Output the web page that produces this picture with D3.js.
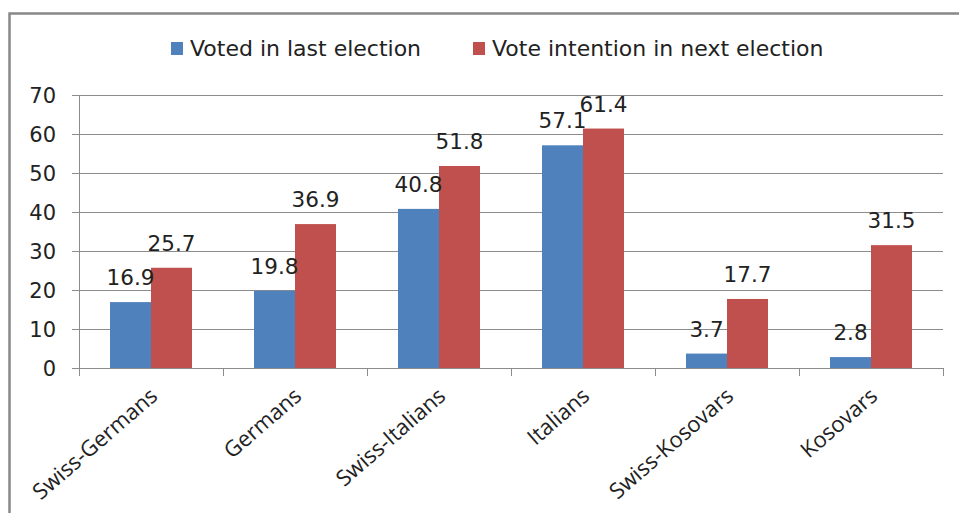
<!DOCTYPE html>
<html>
<head>
<meta charset="utf-8">
<script src="https://cdn.jsdelivr.net/npm/d3@7"></script>
<style>
body { margin: 0; background: #fff; }
svg { display: block; }
text { font-family: "DejaVu Sans", Verdana, sans-serif; fill: #222; }
</style>
</head>
<body>
<div id="chart"></div>
<script>
var categories = ["Swiss-Germans", "Germans", "Swiss-Italians", "Italians", "Swiss-Kosovars", "Kosovars"];
var series = ["Voted in last election", "Vote intention in next election"];
var voted = [16.9, 19.8, 40.8, 57.1, 3.7, 2.8];
var intention = [25.7, 36.9, 51.8, 61.4, 17.7, 31.5];
var yTicks = [0, 10, 20, 30, 40, 50, 60, 70];
var colors = ["#4f81bd", "#c0504d"];

var W = 959, H = 513;
var svg = d3.select("#chart").append("svg")
	.attr("width", W)
	.attr("height", H);

// outer frame (right and bottom run off the picture)
svg.append("path")
	.attr("d", "M9.5,513 L9.5,13.5 L959,13.5")
	.attr("fill", "none")
	.attr("stroke", "#888")
	.attr("stroke-width", 2.5);

var x0 = d3.scaleBand().domain(categories).range([79, 943]).padding(0);
var x1 = d3.scaleBand().domain(series).range([0, x0.bandwidth()]).paddingInner(0).paddingOuter(0.756);
var y = d3.scaleLinear().domain([0, 70]).range([368, 95]);

// gridlines
svg.append("g").selectAll("line")
	.data(yTicks)
	.enter().append("line")
	.attr("x1", 72).attr("x2", 943)
	.attr("y1", function(d){ return Math.round(y(d)) + 0.5; })
	.attr("y2", function(d){ return Math.round(y(d)) + 0.5; })
	.attr("stroke", "#8c8c8c");

// y labels
svg.append("g").selectAll("text")
	.data(yTicks)
	.enter().append("text")
	.attr("x", 56)
	.attr("y", function(d){ return y(d) + 7.5; })
	.attr("text-anchor", "end")
	.style("font-size", "21px")
	.text(function(d){ return d; });

// bars
var rows = categories.map(function(c, i){ return {cat: c, vals: [voted[i], intention[i]]}; });
var groups = svg.append("g").selectAll("g")
	.data(rows)
	.enter().append("g")
	.attr("transform", function(d){ return "translate(" + x0(d.cat) + ",0)"; });

groups.selectAll("rect")
	.data(function(d){ return d.vals.map(function(v, j){ return {s: series[j], v: v, j: j}; }); })
	.enter().append("rect")
	.attr("x", function(d){ return x1(d.s); })
	.attr("width", x1.bandwidth())
	.attr("y", function(d){ return y(d.v); })
	.attr("height", function(d){ return y(0) - y(d.v); })
	.attr("fill", function(d){ return colors[d.j]; });

groups.selectAll("text")
	.data(function(d){ return d.vals.map(function(v, j){ return {s: series[j], v: v}; }); })
	.enter().append("text")
	.attr("x", function(d){ return x1(d.s) + x1.bandwidth() / 2; })
	.attr("y", function(d){ return y(d.v) - 17; })
	.attr("text-anchor", "middle")
	.style("font-size", "21.5px")
	.text(function(d){ return d.v.toFixed(1); });

// axes lines
svg.append("line")
	.attr("x1", 79.5).attr("x2", 79.5)
	.attr("y1", 95).attr("y2", 376)
	.attr("stroke", "#8c8c8c");

var bounds = categories.map(function(c){ return x0(c); }).concat([x0.range()[1]]);
svg.append("g").selectAll("line")
	.data(bounds)
	.enter().append("line")
	.attr("x1", function(d){ return Math.round(d) + 0.5; })
	.attr("x2", function(d){ return Math.round(d) + 0.5; })
	.attr("y1", 368).attr("y2", 376)
	.attr("stroke", "#8c8c8c");

// x labels
svg.append("g").selectAll("text")
	.data(categories)
	.enter().append("text")
	.attr("transform", function(d){ return "translate(" + (x0(d) + x0.bandwidth() / 2 + 8) + ",398) rotate(-41)"; })
	.attr("text-anchor", "end")
	.style("font-family", "'Open Sans', sans-serif")
	.style("font-size", "22px")
	.text(function(d){ return d; });

// legend
var legendX = [171, 473];
var legend = svg.append("g").selectAll("g")
	.data(series)
	.enter().append("g")
	.attr("transform", function(d, i){ return "translate(" + legendX[i] + ",42)"; });
legend.append("rect")
	.attr("width", 12).attr("height", 13)
	.attr("fill", function(d, i){ return colors[i]; });
legend.append("text")
	.attr("x", 19).attr("y", 14)
	.style("font-size", "22px")
	.text(function(d){ return d; });
</script>
</body>
</html>
